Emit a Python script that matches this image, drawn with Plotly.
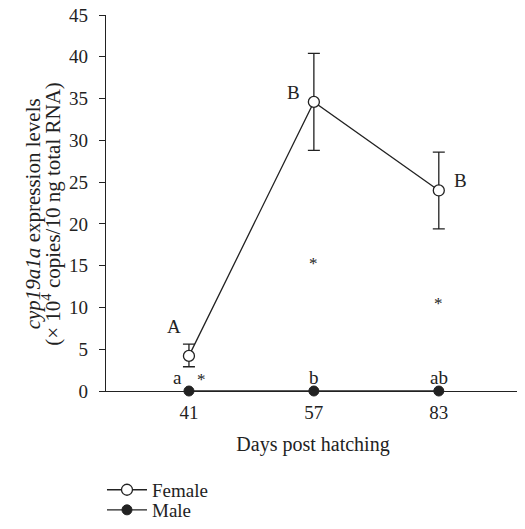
import plotly.graph_objects as go

days = ["41", "57", "83"]
female = [4.2, 34.6, 24.0]
female_err_plus = [1.4, 5.8, 4.6]
female_err_minus = [1.3, 5.8, 4.6]
male = [0, 0, 0]
female_letters = ["A", "B", "B"]
male_letters = ["a", "b", "ab"]
star_x_offset = [0.1, 0, 0]
star_y = [1.8, 15.7, 11.0]

FONT = "Liberation Serif"
INK = "#222"
xpos = list(range(len(days)))

# the page body has an 8px default margin: shift the layout up/left by 8px
W, H = 517, 529
ML, MT, PW, PH = 98, 7, 414, 376

fig = go.Figure()
fig.add_trace(go.Scatter(
    x=xpos, y=female, mode="lines+markers", name="Female", legend="legend",
    line=dict(color=INK, width=1.3),
    marker=dict(symbol="circle", size=11, color="white", line=dict(color=INK, width=1.3)),
    error_y=dict(type="data", symmetric=False, array=female_err_plus, arrayminus=female_err_minus,
                 color=INK, thickness=1.3, width=6),
    cliponaxis=False,
))
fig.add_trace(go.Scatter(
    x=xpos, y=male, mode="lines+markers", name="Male", legend="legend2",
    line=dict(color=INK, width=1.3),
    marker=dict(symbol="circle", size=10, color=INK, line=dict(color=INK, width=1)),
    cliponaxis=False,
))

# significance asterisks (female vs male)
for i in range(len(days)):
    fig.add_annotation(x=xpos[i] + star_x_offset[i], y=star_y[i], text="*", showarrow=False,
                       xanchor="center", yanchor="middle", yshift=-4,
                       font=dict(family=FONT, size=17, color=INK))

# female letters: (xanchor, xshift, yshift)
fpos = [("right", -6, 29), ("right", -12, 9), ("left", 13, 10)]
for i, fl in enumerate(female_letters):
    xa, xs, ys = fpos[i]
    fig.add_annotation(x=xpos[i], y=female[i], text=fl, showarrow=False,
                       xanchor=xa, yanchor="middle", xshift=xs, yshift=ys,
                       font=dict(family=FONT, size=19, color=INK))
mshift = [-11, 0, 0]
for i, ml in enumerate(male_letters):
    fig.add_annotation(x=xpos[i], y=male[i], text=ml, showarrow=False,
                       xanchor="center", yanchor="middle", xshift=mshift[i], yshift=14,
                       font=dict(family=FONT, size=19, color=INK))

# y-axis title as two rotated lines (tight leading)
ytitle = ["<i>cyp19a1a</i> expression levels",
          "(× 10<sup>4</sup> copies/10 ng total RNA)"]
for t, px in zip(ytitle, [33, 51.5]):
    fig.add_annotation(xref="paper", yref="paper", x=(px - 106) / PW, y=0.47, text=t,
                       textangle=-90, showarrow=False, xanchor="center", yanchor="middle",
                       font=dict(family=FONT, size=21, color=INK))

leg_common = dict(xanchor="left", yanchor="middle", font=dict(family=FONT, size=19, color=INK),
                  bgcolor="rgba(0,0,0,0)", itemwidth=40)
fig.update_layout(
    width=W, height=H,
    margin=dict(l=ML, r=W - ML - PW, t=MT, b=H - MT - PH),
    paper_bgcolor="white", plot_bgcolor="white",
    font=dict(family=FONT, size=18, color=INK),
    showlegend=True,
    legend=dict(x=-0.0097, y=-0.263, **leg_common),
    legend2=dict(x=-0.0097, y=-0.3165, **leg_common),
    xaxis=dict(range=[-0.664, 2.65], tickmode="array", tickvals=xpos, ticktext=days,
               showline=True, linecolor=INK, linewidth=1.3, showgrid=False, zeroline=False,
               ticks="", ticklen=0, automargin=False, ticklabelstandoff=4,
               tickfont=dict(family=FONT, size=19, color=INK),
               title=dict(text="Days post hatching", standoff=15, font=dict(family=FONT, size=20))),
    yaxis=dict(range=[0, 45], tickmode="array", tickvals=list(range(0, 50, 5)),
               showline=True, linecolor=INK, linewidth=1.3, showgrid=False, zeroline=False,
               ticks="outside", ticklen=6, tickcolor=INK, tickwidth=1.3, automargin=False,
               ticklabelstandoff=7, ticklabeloverflow="allow",
               tickfont=dict(family=FONT, size=19, color=INK)),
)

fig.write_html("out.html")
